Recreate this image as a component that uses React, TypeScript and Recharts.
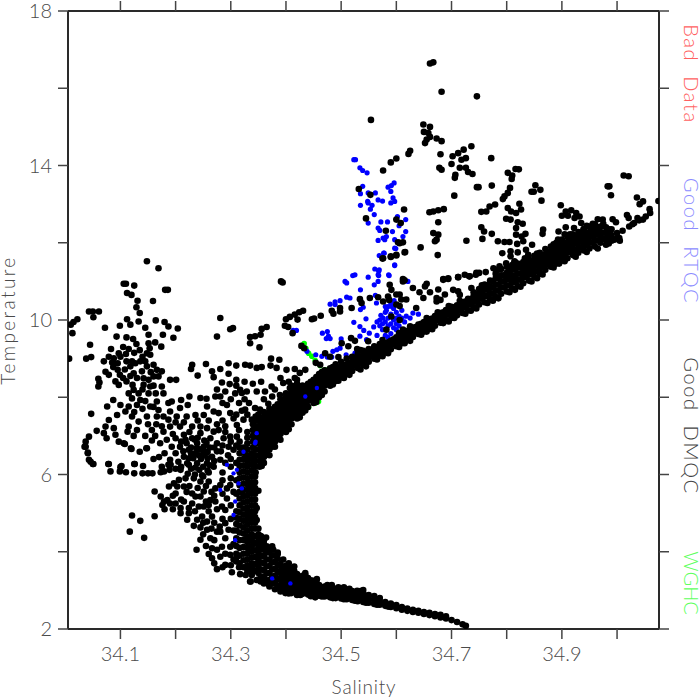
import { ScatterChart, Scatter, XAxis, YAxis } from "recharts";

const salinityTicks = [34.1, 34.2, 34.3, 34.4, 34.5, 34.6, 34.7, 34.8, 34.9, 35.0];
const salinityLabels = [34.1, 34.3, 34.5, 34.7, 34.9];
const temperatureTicks = [2, 4, 6, 8, 10, 12, 14, 16, 18];
const temperatureLabels = [2, 6, 10, 14, 18];

// each row: salinity, then the temperatures seen at that salinity
const tailColumns = [
  [34.726, 2.08], [34.72, 2.12], [34.71, 2.18], [34.7, 2.23], [34.69, 2.27, 2.33], [34.68, 2.3, 2.37], [34.67, 2.33, 2.39],
  [34.66, 2.36, 2.42], [34.65, 2.39, 2.44], [34.64, 2.42, 2.47], [34.63, 2.44, 2.5], [34.62, 2.47, 2.53], [34.61, 2.5, 2.57],
  [34.6, 2.54, 2.62], [34.59, 2.57, 2.66], [34.58, 2.6, 2.7], [34.57, 2.63, 2.72, 2.8], [34.56, 2.65, 2.75, 2.85],
  [34.55, 2.68, 2.78, 2.88], [34.54, 2.7, 2.8, 2.92], [34.53, 2.72, 2.83, 2.95], [34.52, 2.75, 2.86, 2.98], [34.51, 2.77, 2.88, 3],
  [34.5, 2.79, 2.9, 3.02], [34.49, 2.8, 2.92, 3.04], [34.48, 2.82, 2.94, 3.07], [34.47, 2.84, 2.96, 3.1], [34.46, 2.86, 3, 3.14],
  [34.45, 2.87, 3.02, 3.18, 3.25], [34.44, 2.89, 3.04, 3.2, 3.32], [34.43, 2.91, 3.07, 3.23, 3.38], [34.42, 2.92, 3.08, 3.25, 3.42],
  [34.41, 2.93, 3.1, 3.28, 3.46, 3.58], [34.4, 2.95, 3.12, 3.3, 3.48, 3.64], [34.39, 2.97, 3.14, 3.32, 3.5, 3.68],
  [34.38, 3.03, 3.2, 3.38, 3.56, 3.74, 3.9], [34.37, 3.1, 3.27, 3.45, 3.63, 3.8, 3.98, 4.1],
  [34.36, 3.18, 3.35, 3.52, 3.7, 3.88, 4.05, 4.2, 4.3], [34.35, 3.28, 3.45, 3.62, 3.8, 3.98, 4.15, 4.3, 4.45, 4.6],
];

const tailFill = [
  [34.545, 2.76, 2.86], [34.535, 2.78, 2.88], [34.525, 2.8, 2.92], [34.515, 2.83, 2.94], [34.505, 2.85, 2.96], [34.495, 2.86, 2.98], [34.485, 2.88, 3],
  [34.475, 2.9, 3.03], [34.465, 2.92, 3.06], [34.455, 2.94, 3.1], [34.445, 2.96, 3.12, 3.26], [34.435, 2.98, 3.15, 3.3], [34.425, 3, 3.17, 3.34],
  [34.415, 3.02, 3.19, 3.36, 3.5], [34.405, 3.04, 3.21, 3.39, 3.55], [34.395, 3.06, 3.23, 3.41, 3.6], [34.385, 3.1, 3.28, 3.46, 3.64, 3.82],
  [34.375, 3.18, 3.36, 3.54, 3.72, 3.9], [34.365, 3.26, 3.44, 3.62, 3.8, 3.98, 4.14], [34.355, 3.36, 3.54, 3.72, 3.9, 4.08, 4.24, 4.4],
  [34.344, 3.5, 3.68, 3.86, 4.04, 4.22, 4.4, 4.6],
];

const stemColumns = [
  [34.344, 4.75, 4.9, 5.05, 5.2, 5.35, 5.5, 5.65, 5.8, 5.95],
  [34.338, 3.4, 3.55, 3.7, 3.85, 4, 4.15, 4.3, 4.45, 4.6, 4.75, 4.9, 5.05, 5.2, 5.35, 5.5, 5.65, 5.8, 5.95, 6.1, 6.25, 6.4, 6.55],
  [34.33, 3.5, 3.65, 3.8, 3.95, 4.1, 4.25, 4.4, 4.55, 4.7, 4.85, 5, 5.15, 5.3, 5.45, 5.6, 5.75, 5.9, 6.05, 6.2, 6.35, 6.5, 6.65, 6.8, 6.95, 7.1],
  [34.323, 3.6, 3.78, 3.95, 4.12, 4.3, 4.47, 4.63, 4.8, 4.96, 5.12, 5.28, 5.44, 5.6, 5.76, 5.92, 6.08, 6.24, 6.4, 6.56, 6.7],
  [34.316, 3.7, 3.9, 4.1, 4.3, 4.5, 4.68, 4.85, 5.02, 5.2, 5.38, 5.55, 5.72, 5.9, 6.06, 6.22, 6.38, 6.55, 6.7, 6.85],
  [34.31, 3.75, 3.95, 4.15, 4.35, 4.55, 4.72, 4.88, 5.05, 5.5, 5.85, 6.3],
  [34.352, 6.2, 6.35, 6.5, 6.65, 6.8],
  [34.34, 6.7, 6.85, 7, 7.15, 7.3],
  [34.35, 6.95, 7.1, 7.25, 7.4, 7.55],
];

const bandColumns = [
  [34.36, 6.3, 6.45, 6.6, 6.75, 6.9, 7.05, 7.2, 7.35, 7.5, 7.62], [34.37, 6.5, 6.65, 6.8, 6.95, 7.1, 7.25, 7.4, 7.55, 7.7],
  [34.38, 6.72, 6.85, 7, 7.15, 7.3, 7.45, 7.6, 7.75], [34.39, 6.9, 7.05, 7.2, 7.35, 7.5, 7.65, 7.8, 7.95],
  [34.4, 7.1, 7.25, 7.4, 7.55, 7.7, 7.85, 8, 8.1], [34.41, 7.3, 7.45, 7.6, 7.75, 7.9, 8.05, 8.2, 8.3], [34.42, 7.45, 7.6, 7.75, 7.9, 8.05, 8.2, 8.35],
  [34.43, 7.6, 7.75, 7.9, 8.05, 8.2, 8.3], [34.44, 7.75, 7.9, 8.05, 8.2, 8.35], [34.45, 7.85, 8, 8.15, 8.3, 8.45],
  [34.46, 8, 8.15, 8.3, 8.45, 8.6], [34.47, 8.15, 8.3, 8.45, 8.6, 8.7], [34.48, 8.3, 8.45, 8.6, 8.75], [34.49, 8.42, 8.55, 8.7, 8.85],
  [34.5, 8.52, 8.65, 8.8, 8.92], [34.51, 8.6, 8.72, 8.85, 9], [34.52, 8.68, 8.8, 8.92, 9.05], [34.53, 8.76, 8.88, 9, 9.12],
  [34.54, 8.84, 8.96, 9.08, 9.2], [34.55, 8.92, 9.04, 9.16, 9.25], [34.56, 9, 9.12, 9.24, 9.32], [34.57, 9.08, 9.2, 9.32, 9.38],
  [34.58, 9.16, 9.28, 9.4], [34.59, 9.24, 9.36, 9.46], [34.6, 9.32, 9.44, 9.55], [34.61, 9.4, 9.52, 9.64], [34.62, 9.48, 9.6, 9.72],
  [34.63, 9.56, 9.68, 9.8], [34.64, 9.64, 9.76, 9.88], [34.65, 9.7, 9.82, 9.95], [34.66, 9.78, 9.9, 10.02], [34.67, 9.85, 9.98, 10.1],
  [34.68, 9.93, 10.06, 10.18], [34.69, 10, 10.14, 10.26], [34.7, 10.06, 10.2, 10.34], [34.71, 10.12, 10.25, 10.38],
  [34.72, 10.18, 10.33, 10.46], [34.73, 10.25, 10.4, 10.55], [34.74, 10.32, 10.47, 10.62, 10.72], [34.75, 10.4, 10.55, 10.7, 10.8],
  [34.76, 10.46, 10.62, 10.78, 10.92], [34.77, 10.54, 10.7, 10.86, 11.02], [34.78, 10.6, 10.76, 10.92, 11.08, 11.2],
  [34.79, 10.68, 10.84, 11, 11.16, 11.32], [34.8, 10.74, 10.9, 11.06, 11.22, 11.38], [34.81, 10.82, 10.98, 11.14, 11.3, 11.42],
  [34.82, 10.88, 11.04, 11.2, 11.36, 11.46], [34.83, 10.95, 11.1, 11.25, 11.4, 11.5], [34.84, 11.02, 11.17, 11.32, 11.47, 11.58],
  [34.85, 11.12, 11.26, 11.4, 11.54, 11.66], [34.86, 11.2, 11.34, 11.48, 11.62, 11.74], [34.87, 11.3, 11.43, 11.56, 11.7, 11.84],
  [34.88, 11.38, 11.5, 11.64, 11.78, 11.9], [34.89, 11.46, 11.6, 11.74, 11.88, 12], [34.9, 11.55, 11.68, 11.82, 11.96, 12.08],
  [34.91, 11.6, 11.74, 11.88, 12.02, 12.16], [34.92, 11.68, 11.82, 11.96, 12.1, 12.22], [34.93, 11.74, 11.88, 12.02, 12.16, 12.28],
  [34.94, 11.8, 11.94, 12.08, 12.22, 12.36], [34.95, 11.85, 12, 12.14, 12.28, 12.42], [34.96, 11.9, 12.05, 12.2, 12.34, 12.48],
  [34.97, 12, 12.14, 12.28, 12.42], [34.98, 11.95, 12.1, 12.25, 12.4], [34.99, 12.05, 12.2, 12.35], [35, 12.12, 12.25],
];

const bandFill = [
  [34.345, 6.05, 6.2, 6.35, 6.5, 6.65, 6.8, 6.95, 7.1, 7.25, 7.4], [34.355, 6.4, 6.55, 6.7, 6.85, 7, 7.15, 7.3, 7.45],
  [34.365, 6.52, 6.67, 6.82, 6.97, 7.12, 7.27, 7.42, 7.57], [34.375, 6.72, 6.87, 7.02, 7.17, 7.32, 7.47, 7.62],
  [34.385, 6.92, 7.07, 7.22, 7.37, 7.52, 7.67, 7.82], [34.395, 7.12, 7.27, 7.42, 7.57, 7.72, 7.87], [34.405, 7.32, 7.47, 7.62, 7.77, 7.92, 8.07],
  [34.415, 7.52, 7.67, 7.82, 7.97, 8.12, 8.25], [34.425, 7.67, 7.82, 7.97, 8.12, 8.25], [34.435, 7.82, 7.97, 8.12, 8.27], [34.445, 7.97, 8.12, 8.27, 8.4],
  [34.455, 8.07, 8.22, 8.37, 8.52], [34.465, 8.22, 8.37, 8.52, 8.65], [34.475, 8.37, 8.52, 8.67], [34.485, 8.5, 8.65, 8.78], [34.495, 8.62, 8.75],
  [34.505, 8.66, 8.8], [34.515, 8.74, 8.88], [34.525, 8.82, 8.98], [34.535, 8.9, 9.05], [34.545, 8.98, 9.12], [34.555, 9.06, 9.2], [34.565, 9.14, 9.28],
  [34.575, 9.22, 9.35], [34.585, 9.3, 9.42], [34.595, 9.38, 9.5], [34.605, 9.46, 9.58], [34.615, 9.54, 9.66], [34.625, 9.62, 9.74], [34.635, 9.7, 9.82],
  [34.645, 9.78, 9.9], [34.655, 9.84, 9.96], [34.665, 9.92, 10.04], [34.675, 10, 10.12], [34.685, 10.06, 10.2], [34.695, 10.14, 10.26], [34.705, 10.2, 10.32],
  [34.715, 10.26, 10.4], [34.725, 10.33, 10.48], [34.735, 10.4, 10.54], [34.745, 10.47, 10.62], [34.755, 10.55, 10.7], [34.765, 10.62, 10.78, 10.9],
  [34.775, 10.68, 10.84, 11], [34.785, 10.76, 10.92, 11.08], [34.795, 10.84, 11, 11.16], [34.805, 10.9, 11.06, 11.22, 11.34], [34.815, 10.98, 11.14, 11.3],
  [34.825, 11.04, 11.2, 11.36], [34.835, 11.12, 11.28, 11.42], [34.845, 11.2, 11.35, 11.5], [34.855, 11.26, 11.42, 11.58], [34.865, 11.36, 11.5, 11.66],
  [34.875, 11.44, 11.58, 11.74], [34.885, 11.52, 11.68, 11.84], [34.895, 11.62, 11.76, 11.92], [34.905, 11.68, 11.84, 12], [34.915, 11.76, 11.92, 12.08],
  [34.925, 11.82, 11.98, 12.14], [34.935, 11.88, 12.04, 12.2], [34.945, 11.94, 12.1, 12.26], [34.955, 12, 12.16, 12.32], [34.965, 12.06, 12.22, 12.36],
  [34.975, 12.1, 12.26], [34.985, 12.14, 12.28],
];

// loose dots on the edges of the band, between the rows above
const bandEdges = [
  [34.405, 7.17], [34.425, 7.48], [34.435, 7.66], [34.455, 7.88], [34.465, 8.06], [34.485, 8.33], [34.495, 8.43], [34.505, 8.5], [34.515, 8.58], [34.535, 8.72],
  [34.545, 8.8], [34.565, 8.98], [34.575, 9.06], [34.585, 9.14], [34.605, 9.3], [34.615, 9.4], [34.625, 9.46], [34.645, 9.62], [34.655, 9.7], [34.665, 9.76],
  [34.685, 9.92], [34.695, 9.96], [34.705, 10.05], [34.725, 10.16], [34.735, 10.24], [34.745, 10.3], [34.765, 10.44], [34.775, 10.5], [34.785, 10.56], [34.805, 10.72],
  [34.815, 10.78], [34.825, 10.86], [34.845, 11], [34.855, 11.08], [34.865, 11.18], [34.885, 11.36], [34.895, 11.46], [34.905, 11.52], [34.925, 11.64], [34.945, 11.76],
  [34.965, 11.85], [34.985, 11.98], [34.995, 12.08], [35.005, 12.05], [34.535, 9.22], [34.575, 9.48], [34.605, 9.66], [34.625, 9.84], [34.655, 10.05], [34.675, 10.2],
  [34.695, 10.36], [34.715, 10.5], [34.755, 10.9], [34.785, 11.3], [34.815, 11.5], [34.855, 11.72], [34.885, 11.96], [34.915, 12.22], [34.945, 12.44],
  [34.415, 3.62], [34.435, 3.45], [34.455, 3.22], [34.475, 3.14], [34.495, 3.08], [34.515, 3.04], [34.535, 2.98], [34.375, 4.14], [34.385, 3.98], [34.395, 3.8],
  [34.405, 2.92], [34.425, 2.9], [34.445, 2.85], [34.465, 2.84], [34.485, 2.8], [34.505, 2.77], [34.525, 2.73], [34.545, 2.68], [34.565, 2.63], [34.585, 2.58],
];

// [salinity, temperature] read one by one
const upperScatter = [
  [34.661, 16.64], [34.667, 16.67], [34.682, 15.91], [34.746, 15.79], [34.554, 15.18], [34.649, 15.06], [34.661, 15], [34.65, 14.87], [34.658, 14.84],
  [34.661, 14.74], [34.655, 14.67], [34.652, 14.58], [34.673, 14.7], [34.682, 14.63], [34.625, 14.38], [34.622, 14.3], [34.6, 14.18], [34.59, 14.08],
  [34.576, 13.87], [34.68, 14.29], [34.712, 14.32], [34.722, 14.41], [34.736, 14.5], [34.702, 14.24], [34.726, 14.19], [34.718, 14.15], [34.772, 14.19],
  [34.7, 14.04], [34.715, 13.94], [34.726, 13.94], [34.73, 13.83], [34.738, 13.78], [34.678, 13.94], [34.682, 13.89], [34.707, 13.76], [34.706, 13.68],
  [34.816, 13.91], [34.822, 13.9], [34.802, 13.81], [34.81, 13.74], [34.809, 13.65], [34.746, 13.44], [34.749, 13.44], [34.773, 13.48], [34.806, 13.42], [34.802, 13.29],
  [34.796, 13.2], [34.793, 13.13], [34.852, 13.49], [34.845, 13.32], [34.849, 13.32], [34.861, 13.37], [34.863, 13.09], [34.898, 12.97], [34.705, 13.22], [34.823, 13.01],
  [34.779, 12.99], [34.769, 12.94], [34.763, 12.81], [34.754, 12.8], [34.802, 12.9], [34.808, 12.81], [34.817, 12.77], [34.826, 12.86], [34.799, 12.62],
  [34.807, 12.6], [34.82, 12.53], [34.829, 12.49], [34.817, 12.38], [34.754, 12.4], [34.759, 12.29], [34.773, 12.23], [34.756, 12.1], [34.727, 12.05],
  [34.784, 12.04], [34.796, 12.02], [34.805, 12.02], [34.817, 12.21], [34.827, 12.16], [34.834, 12.23], [34.83, 12.04], [34.819, 11.97], [34.846, 11.95],
  [34.866, 12.34], [34.865, 12.23], [34.792, 11.73], [34.807, 11.78], [34.807, 11.65], [34.82, 11.75], [34.835, 11.82], [34.839, 11.69],
  [34.614, 12.86], [34.66, 12.79], [34.667, 12.81], [34.676, 12.84], [34.686, 12.87], [34.545, 12.63], [34.6, 12.6], [34.608, 12.51], [34.676, 12.53],
  [34.581, 12.31], [34.667, 12.25], [34.676, 12.21], [34.673, 12.08], [34.67, 12.04], [34.603, 12.01], [34.612, 12.01], [34.644, 11.88], [34.675, 11.68],
  [34.616, 11.76], [34.6, 11.67], [34.59, 11.63], [34.575, 11.59], [34.532, 13.39], [34.553, 13.24],
  [34.685, 11.06], [34.694, 11.08], [34.712, 11.11], [34.724, 11.17], [34.732, 11.13], [34.744, 11.17], [34.75, 11.22], [34.762, 11.24], [34.776, 11.34],
  [34.787, 11.39], [34.799, 11.47], [34.814, 11.52], [34.833, 11.6], [34.612, 11.06],
];

const rightScatter = [
  [34.894, 12.29], [34.893, 12.08], [34.907, 12.4], [34.905, 12.22], [34.912, 12.2], [34.922, 12.38], [34.913, 12.08], [34.907, 12.81], [34.917, 12.84],
  [34.926, 12.77], [34.9, 12.7], [34.911, 12.7], [34.923, 12.64], [34.932, 12.68], [34.935, 12.51], [34.939, 12.34], [34.965, 12.61], [34.974, 12.6],
  [34.956, 12.49], [34.975, 12.49], [34.992, 12.61], [34.998, 12.53], [34.986, 12.35], [34.983, 13.46], [34.986, 13.46], [34.989, 13.23], [35.012, 13.74], [35.021, 13.72],
  [35.036, 13.17], [35.047, 13.07], [35.041, 13], [35.075, 13.08], [35.018, 12.72], [35.021, 12.64], [35.059, 12.87], [35.06, 12.77], [35.037, 12.64],
  [35.031, 12.51], [35.047, 12.6], [35.022, 12.42], [35.052, 12.68], [35.01, 12.31], [35.004, 12.12], [35.028, 12.48], [35.04, 12.58],
];

const midScatter = [
  [34.391, 11], [34.394, 10.97], [34.431, 10.24], [34.424, 10.2], [34.416, 10.14], [34.407, 10.08], [34.4, 10.02], [34.398, 9.85], [34.404, 9.82], [34.421, 10.01],
  [34.447, 10.02], [34.451, 10.04], [34.463, 10.11], [34.483, 10.24], [34.486, 10.16], [34.498, 10.31], [34.498, 10.22], [34.519, 10.31], [34.365, 9.82],
  [34.356, 9.77], [34.354, 9.62], [34.344, 9.58], [34.335, 9.56], [34.335, 9.4], [34.352, 9.29], [34.412, 9.66], [34.428, 9.33], [34.433, 9.27], [34.373, 9],
  [34.388, 8.97], [34.326, 8.84], [34.335, 8.82], [34.347, 8.76], [34.356, 8.78], [34.372, 8.82], [34.383, 8.76], [34.401, 8.71], [34.416, 8.73], [34.435, 8.71],
  [34.462, 8.84], [34.454, 8.89], [34.471, 9.14], [34.48, 9.05], [34.495, 9.04], [34.501, 9.4], [34.513, 9.32], [34.518, 9.53], [34.525, 9.46], [34.529, 9.25],
  [34.549, 9.45], [34.534, 10.54], [34.537, 10.44], [34.552, 10.57], [34.567, 10.59], [34.576, 10.48], [34.585, 10.61], [34.587, 10.52], [34.606, 10.66],
  [34.612, 11], [34.615, 11.03], [34.588, 10.91], [34.591, 10.78], [34.6, 10.66], [34.609, 10.53], [34.618, 10.53], [34.63, 10.83], [34.642, 10.72], [34.652, 10.87],
  [34.655, 10.94], [34.649, 10.57], [34.661, 10.72], [34.676, 10.79], [34.673, 10.57], [34.685, 11.04], [34.694, 11.06], [34.688, 10.66], [34.712, 11.11],
  [34.703, 10.78], [34.712, 10.74], [34.715, 10.65], [34.733, 11.13], [34.745, 11.22], [34.736, 10.83], [34.745, 10.65], [34.6, 10.4], [34.606, 10.36],
  [34.636, 10.31], [34.673, 10.48], [34.68, 10.52], [34.582, 9.75], [34.591, 10.09], [34.606, 10], [34.612, 9.75], [34.576, 11.6], [34.59, 11.65], [34.6, 11.69],
  [34.615, 11.75], [34.606, 11.99], [34.347, 8.15], [34.362, 8.15], [34.374, 8.28], [34.38, 8.2], [34.329, 8.15], [34.32, 8.11], [34.333, 7.85], [34.344, 7.72],
  [34.353, 7.68], [34.326, 7.68], [34.395, 8.37], [34.416, 8.5], [34.425, 8.63], [34.389, 8.06], [34.368, 7.83], [34.338, 7.42],
  [34.323, 7.42], [34.407, 8.24], [34.39, 8.5], [34.405, 8.4], [34.42, 8.45], [34.375, 8.02], [34.36, 7.95], [34.345, 7.5],
  [34.325, 8.4], [34.34, 8.35], [34.355, 8.4], [34.31, 8.45], [34.3, 7.95], [34.315, 7.85], [34.325, 7.95], [34.31, 7.55], [34.32, 7.65], [34.33, 7.55],
  [34.285, 7.85], [34.275, 8.2], [34.29, 8.15], [34.31, 8.3],
];

const leftScatter = [
  [34.148, 11.52], [34.169, 11.34], [34.106, 10.94], [34.11, 10.94], [34.125, 10.89], [34.112, 10.7], [34.12, 10.65], [34.181, 10.78], [34.186, 10.78], [34.131, 10.5], [34.159, 10.49],
  [34.129, 10.33], [34.135, 10.18], [34.043, 10.22], [34.05, 10.22], [34.061, 10.22], [34.051, 10.07], [34.022, 10.02], [34.015, 9.95], [34.01, 9.88], [34.013, 9.66], [34.072, 9.8],
  [34.112, 10.02], [34.099, 9.85], [34.118, 9.88], [34.133, 9.96], [34.145, 9.8], [34.164, 9.99], [34.18, 9.95], [34.187, 9.83], [34.204, 9.78], [34.177, 9.62],
  [34.196, 9.54], [34.093, 9.57], [34.111, 9.55], [34.123, 9.51], [34.151, 9.62], [34.129, 9.38], [34.163, 9.42], [34.174, 9.31], [34.045, 9.36], [34.038, 9],
  [34.047, 9.04], [34.007, 9], [34.07, 8.93], [34.079, 9.05], [34.083, 9.25], [34.088, 9.01], [34.097, 9.14], [34.111, 8.93], [34.121, 8.93], [34.127, 8.88],
  [34.136, 8.93], [34.148, 9.14], [34.154, 9.1], [34.151, 9.4], [34.153, 9.27], [34.145, 8.93], [34.16, 8.84], [34.166, 8.71], [34.175, 8.67], [34.169, 8.54],
  [34.19, 8.45], [34.201, 8.45], [34.073, 8.66], [34.079, 8.58], [34.06, 8.48], [34.062, 8.38], [34.06, 8.28], [34.087, 8.78], [34.095, 8.71], [34.099, 8.58],
  [34.091, 8.41], [34.097, 8.32], [34.111, 8.41], [34.124, 8.62], [34.13, 8.5], [34.139, 8.67], [34.142, 8.49], [34.151, 8.45], [34.16, 8.54], [34.142, 8.32],
  [34.154, 8.28], [34.175, 8.28], [34.115, 8.1], [34.124, 8.19], [34.133, 8.1], [34.121, 7.97], [34.136, 7.93], [34.151, 8.1], [34.164, 8.1], [34.178, 8.1],
  [34.166, 7.89], [34.115, 7.76], [34.13, 7.8], [34.154, 7.76], [34.169, 7.67], [34.1, 7.8], [34.087, 7.93], [34.076, 7.76], [34.047, 7.57], [34.094, 7.54],
  [34.109, 7.63], [34.121, 7.5], [34.133, 7.37], [34.148, 7.5], [34.166, 7.5], [34.178, 7.5], [34.187, 7.85], [34.193, 7.89], [34.079, 7.41], [34.073, 7.24],
  [34.07, 7.07], [34.075, 6.94], [34.057, 7.13], [34.088, 7.2], [34.091, 7.03], [34.097, 6.85], [34.115, 7.24], [34.113, 7.11], [34.124, 7], [34.106, 6.81],
  [34.119, 6.68], [34.135, 6.59], [34.148, 6.68], [34.145, 7], [34.157, 7.15], [34.163, 7], [34.157, 6.88], [34.178, 7.11], [34.184, 6.9], [34.172, 6.81],
  [34.043, 6.98], [34.037, 6.85], [34.035, 6.72], [34.041, 6.57], [34.043, 6.38], [34.051, 6.27], [34.078, 6.27], [34.1, 6.19], [34.125, 6.27], [34.141, 6.22],
  [34.105, 9.3], [34.115, 9.25], [34.125, 9.15], [34.135, 9.22], [34.1, 9.05], [34.11, 9.12], [34.14, 9.05], [34.085, 8.9], [34.095, 8.88], [34.108, 8.72],
  [34.118, 8.8], [34.148, 8.8], [34.155, 8.65], [34.118, 8.55], [34.105, 8.5], [34.122, 8.32], [34.14, 8.2], [34.16, 8.3], [34.145, 7.9], [34.16, 7.75],
  [34.125, 7.62], [34.14, 7.7], [34.15, 7.3], [34.13, 7.15], [34.165, 7.3], [34.175, 7.25],
];

const cloudScatter = [
  [34.19, 7.63], [34.21, 7.93], [34.225, 8.02], [34.222, 7.8], [34.208, 7.72], [34.245, 7.98], [34.256, 7.96], [34.272, 8.02], [34.281, 8.02], [34.257, 7.76],
  [34.269, 7.63], [34.278, 7.59], [34.293, 7.8], [34.299, 7.59], [34.187, 7.42], [34.202, 7.5], [34.22, 7.5], [34.236, 7.54], [34.251, 7.54], [34.208, 7.24],
  [34.19, 7.24], [34.23, 7.24], [34.245, 7.24], [34.257, 7.2], [34.269, 7.11], [34.278, 7.15], [34.287, 6.94], [34.299, 6.98], [34.311, 7.28], [34.311, 6.98],
  [34.296, 6.72], [34.305, 6.64], [34.275, 6.81], [34.263, 6.94], [34.245, 7.07], [34.23, 6.94], [34.215, 7.03], [34.2, 6.94], [34.193, 6.72], [34.208, 6.72],
  [34.22, 6.81], [34.239, 6.81], [34.251, 6.72], [34.224, 6.64], [34.236, 6.55], [34.251, 6.5], [34.266, 6.46], [34.215, 6.46], [34.281, 6.38], [34.205, 6.33],
  [34.19, 6.38], [34.221, 6.29], [34.239, 6.29], [34.257, 6.29], [34.187, 6.25], [34.275, 6.6], [34.269, 6.2], [34.255, 8.86], [34.23, 8.84], [34.228, 8.73],
  [34.24, 8.56], [34.266, 8.67], [34.269, 8.52], [34.281, 8.73], [34.296, 8.88], [34.296, 8.61], [34.284, 8.38], [34.298, 8.34], [34.31, 8.82], [34.317, 8.19],
  [34.308, 8.1], [34.275, 9.57], [34.299, 9.76], [34.304, 9.79], [34.281, 10.05],
  [34.228, 6.7], [34.244, 6.65], [34.258, 6.58], [34.232, 6.42], [34.246, 6.4], [34.262, 6.7], [34.27, 6.35], [34.228, 6.15], [34.243, 6.12], [34.258, 6.1],
  [34.235, 6.9], [34.252, 6.88], [34.218, 6.9], [34.26, 6.05], [34.248, 5.98], [34.235, 6], [34.222, 6.02], [34.29, 6.3], [34.3, 6.2], [34.285, 6.05],
  [34.3, 6.4], [34.29, 7.25], [34.305, 7.45], [34.285, 7.4], [34.3, 5.9], [34.282, 6.6],
  [34.228, 6.55], [34.238, 6.68], [34.25, 6.62], [34.242, 6.5], [34.258, 6.42], [34.224, 6.42], [34.236, 6.18], [34.25, 6.2], [34.214, 6.6], [34.262, 6.24], [34.256, 6.82], [34.24, 6.95],
  [34.2, 6.55], [34.21, 6.85], [34.225, 7.1], [34.24, 7.4], [34.26, 7.4], [34.275, 7.3], [34.29, 7.1], [34.3, 6.85], [34.315, 7.15], [34.27, 6.7], [34.285, 6.75], [34.295, 6.5],
  [34.31, 6.75], [34.195, 7.05], [34.2, 7.35], [34.215, 7.35], [34.18, 6.55], [34.17, 6.45], [34.16, 6.4], [34.175, 6.2], [34.2, 6.15], [34.21, 6.2],
  [34.037, 6.72], [34.041, 6.55], [34.046, 6.33], [34.05, 6.27], [34.079, 6.27], [34.082, 6.08], [34.099, 6.08], [34.102, 6.22], [34.11, 6.06], [34.125, 6.03],
  [34.126, 6.27], [34.14, 6.03], [34.15, 6.03], [34.158, 6.03], [34.173, 6.06], [34.179, 6.08], [34.189, 6.12], [34.12, 6.66], [34.147, 6.68], [34.108, 6.79],
  [34.162, 5.56], [34.173, 5.43], [34.179, 5.3], [34.185, 5.34], [34.176, 5.21], [34.18, 5.1], [34.195, 5.1], [34.162, 4.92], [34.121, 4.94], [34.136, 4.8],
  [34.117, 4.52], [34.143, 4.36], [34.197, 5.77], [34.188, 5.69], [34.206, 5.86], [34.218, 5.9], [34.203, 5.69], [34.215, 5.69], [34.2, 5.51], [34.191, 6.25],
  [34.209, 6.12], [34.224, 6.25], [34.233, 5.9], [34.245, 5.82], [34.26, 5.82], [34.272, 5.64], [34.281, 5.73], [34.293, 5.64], [34.299, 5.73], [34.23, 5.51],
  [34.236, 5.43], [34.251, 5.56], [34.245, 5.43], [34.263, 5.34], [34.272, 5.3], [34.26, 5.21], [34.293, 5.38], [34.209, 5.13], [34.224, 5.13], [34.242, 5.17],
  [34.251, 5.17], [34.284, 5.17], [34.29, 5.08], [34.209, 5], [34.224, 5], [34.248, 4.91], [34.266, 4.91], [34.221, 4.83], [34.239, 4.83], [34.257, 4.78],
  [34.29, 4.74], [34.296, 4.57], [34.233, 4.67], [34.245, 4.63], [34.257, 4.57], [34.275, 4.52], [34.245, 4.31], [34.238, 4.05], [34.263, 4.35], [34.281, 4.52],
  [34.299, 4.13], [34.284, 4.13], [34.266, 4.09], [34.26, 3.94], [34.266, 3.83], [34.281, 3.87], [34.299, 3.92], [34.275, 3.55], [34.29, 3.66], [34.302, 3.47],
  [34.311, 3.87], [34.317, 3.42], [34.327, 3.4], [34.336, 3.23], [34.339, 3.57], [34.354, 3.23], [34.372, 3.17], [34.399, 2.93], [34.42, 2.88],
  [34.215, 5.3], [34.23, 5.25], [34.255, 5.3], [34.27, 5.45], [34.285, 5.5], [34.305, 5.55], [34.275, 5.1], [34.26, 5.05], [34.3, 5.2], [34.235, 5.05], [34.25, 4.75],
  [34.27, 4.75], [34.285, 4.85], [34.3, 4.85], [34.265, 4.6], [34.28, 4.65], [34.305, 4.55], [34.25, 4.45], [34.27, 4.3], [34.29, 4.35], [34.305, 4.2], [34.255, 4.15],
  [34.275, 4.05], [34.29, 3.95], [34.305, 3.8], [34.27, 3.7], [34.285, 3.6], [34.3, 3.65], [34.315, 3.6], [34.255, 5.7], [34.24, 5.65], [34.225, 5.7], [34.265, 5.55],
  [34.285, 5.85], [34.21, 5.35], [34.195, 5.45], [34.19, 5.25], [34.2, 5.25], [34.22, 5.55], [34.25, 5.95],
  [34.364, 4.37], [34.353, 4.41], [34.377, 4.05], [34.385, 3.94], [34.54, 3.01], [34.529, 2.99], [34.456, 3.29], [34.505, 3.08], [34.483, 3.14], [34.435, 3.4],
  [34.405, 3.7], [34.347, 4.82], [34.347, 5.13], [34.35, 5.58], [34.356, 6.22], [34.335, 3.23], [34.347, 3.27], [34.368, 3.17], [34.399, 2.97], [34.426, 2.88], [34.453, 2.82],
];

const blueDots = [
  [34.523, 14.15], [34.526, 14.15], [34.534, 13.94], [34.539, 13.87], [34.547, 13.81], [34.539, 13.46], [34.585, 13.44], [34.591, 13.48], [34.596, 13.55], [34.59, 13.33],
  [34.535, 13.27], [34.549, 13.29], [34.562, 13.29], [34.594, 13.16], [34.567, 13.11], [34.575, 13.08], [34.548, 13.07], [34.59, 13.03], [34.597, 13.07], [34.549, 13.03],
  [34.535, 12.97], [34.556, 12.97], [34.553, 12.87], [34.56, 12.73], [34.602, 12.68], [34.617, 12.6], [34.572, 12.54], [34.584, 12.54], [34.549, 12.51], [34.567, 12.38],
  [34.605, 12.44], [34.57, 12.32], [34.593, 12.29], [34.617, 12.29], [34.612, 12.16], [34.576, 12.12], [34.582, 12.16], [34.567, 12.06], [34.579, 12.08], [34.597, 12.08],
  [34.599, 11.85], [34.578, 11.73], [34.569, 11.67], [34.597, 11.41], [34.561, 11.32], [34.569, 11.3], [34.567, 11.17], [34.525, 11.17], [34.521, 11.15], [34.549, 11.11],
  [34.587, 11.15], [34.577, 11.73], [34.597, 11.86], [34.597, 11.43], [34.568, 11.26], [34.568, 11.15], [34.586, 11.17], [34.567, 11], [34.56, 10.91], [34.621, 11],
  [34.507, 11], [34.51, 10.96], [34.535, 10.78], [34.562, 10.64], [34.51, 10.59], [34.516, 10.57], [34.498, 10.5], [34.489, 10.47], [34.48, 10.41], [34.489, 10.4],
  [34.54, 10.33], [34.535, 10.27], [34.564, 10.44], [34.545, 10.03], [34.523, 9.94], [34.534, 9.83], [34.541, 9.73], [34.551, 9.66], [34.559, 9.82], [34.534, 9.58],
  [34.546, 9.49], [34.419, 9.73], [34.413, 9.73], [34.475, 9.7], [34.466, 9.66], [34.477, 9.58], [34.473, 9.52], [34.48, 9.52], [34.5, 9.51], [34.498, 9.27], [34.492, 9.23],
  [34.485, 9.19], [34.475, 9.04], [34.483, 9.04], [34.465, 9.06], [34.454, 9.1], [34.438, 9.19], [34.509, 9.1], [34.525, 9.14], [34.531, 9.23], [34.54, 9.17],
  [34.576, 10.05], [34.58, 10.2], [34.585, 10.35], [34.59, 10.44], [34.595, 10.3], [34.6, 10.2], [34.605, 10.1], [34.59, 10.15], [34.58, 9.95], [34.585, 9.85],
  [34.59, 9.9], [34.6, 9.9], [34.595, 10], [34.57, 9.85], [34.575, 9.75], [34.58, 9.6], [34.59, 9.65], [34.6, 9.75], [34.565, 9.95], [34.572, 10.12],
  [34.61, 10.25], [34.618, 10.1], [34.625, 10.05], [34.64, 10.15], [34.565, 9.6], [34.575, 9.5], [34.585, 9.55], [34.58, 10.35], [34.596, 10.5], [34.615, 9.95],
  [34.575, 9.9], [34.585, 10.05], [34.595, 9.8], [34.605, 9.85], [34.57, 10], [34.582, 10.25], [34.592, 10.35], [34.6, 10.05], [34.61, 10.05], [34.63, 10.18],
];

// blue dots that stay visible on top of the black ones
const blueOnTop = [
  [34.323, 6.59], [34.311, 6.12], [34.305, 6.03], [34.293, 6.25], [34.314, 5.77], [34.281, 5.6], [34.32, 5.64], [34.308, 5.3], [34.305, 4.95], [34.308, 4.3],
  [34.345, 6.85], [34.347, 7.07], [34.344, 6.81], [34.456, 8.24], [34.435, 8.02], [34.375, 3.31], [34.408, 3.18],
];

const greenDots = [
  [34.433, 9.39], [34.436, 9.27], [34.441, 9.14], [34.447, 9.06], [34.453, 8.95], [34.462, 8.82], [34.471, 8.71], [34.483, 8.6], [34.459, 7.89], [34.453, 7.85], [34.441, 7.74],
];

const toPoints = (pairs: number[][]) => pairs.map(([s, t]) => ({ s, t }));
const fromColumns = (cols: number[][]) => cols.flatMap(([s, ...ts]) => ts.map((t) => ({ s, t })));

const blackPoints = [
  ...fromColumns(tailColumns),
  ...fromColumns(tailFill),
  ...fromColumns(stemColumns),
  ...fromColumns(bandColumns),
  ...fromColumns(bandFill),
  ...toPoints(bandEdges),
  ...toPoints(upperScatter),
  ...toPoints(rightScatter),
  ...toPoints(midScatter),
  ...toPoints(leftScatter),
  ...toPoints(cloudScatter),
];

const fontFamily = "Lato";
const tickStyle = { fill: "#4a4a4a", fontSize: 20, fontFamily, fontWeight: 300 };
const frame = { stroke: "#2a2a2a", strokeWidth: 2 };
const tickLine = { stroke: "#444", strokeWidth: 1.5 };

const dot = (r: number, fill: string) => (p: any) => <circle cx={p.cx} cy={p.cy} r={r} fill={fill} />;

const sideLabels = [
  { text: "Bad  Data", y: 74, color: "#ff6060", spacing: 1.6 },
  { text: "Good  RTQC", y: 241, color: "#8c8cff", spacing: 1.6 },
  { text: "Good  DMQC", y: 426, color: "#444", spacing: 1.6 },
  { text: "WGHC", y: 583, color: "#60ff60", spacing: 0 },
];

export default function App() {
  return (
    <div style={{ position: "absolute", left: 0, top: 0, width: 700, height: 700 }}>
      <ScatterChart width={700} height={700} margin={{ top: 10, right: 40, bottom: 0, left: 0 }}>
        <XAxis
          xAxisId="main"
          dataKey="s"
          type="number"
          domain={[34.005, 35.076]}
          allowDataOverflow
          ticks={salinityTicks}
          interval={0}
          height={71}
          tickSize={10}
          tickMargin={8}
          tick={tickStyle}
          axisLine={frame}
          tickLine={tickLine}
          tickFormatter={(v: number) => (salinityLabels.includes(v) ? v.toFixed(1) : "")}
        />
        <XAxis
          xAxisId="top"
          orientation="top"
          dataKey="s"
          type="number"
          domain={[34.005, 35.076]}
          allowDataOverflow
          ticks={salinityTicks}
          interval={0}
          height={1}
          tickSize={10}
          tick={tickStyle}
          tickFormatter={() => ""}
          axisLine={frame}
          tickLine={tickLine}
        />
        <YAxis
          yAxisId="main"
          dataKey="t"
          type="number"
          domain={[2, 18]}
          allowDataOverflow
          ticks={temperatureTicks}
          interval={0}
          width={68}
          tickSize={10}
          tickMargin={6}
          tick={tickStyle}
          axisLine={frame}
          tickLine={tickLine}
          tickFormatter={(v: number) => (temperatureLabels.includes(v) ? String(v) : "")}
        />
        <YAxis
          yAxisId="right"
          orientation="right"
          dataKey="t"
          type="number"
          domain={[2, 18]}
          allowDataOverflow
          ticks={temperatureTicks}
          interval={0}
          width={1}
          tickSize={10}
          tick={tickStyle}
          tickFormatter={() => ""}
          axisLine={frame}
          tickLine={tickLine}
        />
        <Scatter xAxisId="main" yAxisId="main" data={toPoints(greenDots)} shape={dot(2.8, "#00ff00")} isAnimationActive={false} />
        <Scatter xAxisId="main" yAxisId="main" data={toPoints(blueDots)} shape={dot(2.6, "#0000ff")} isAnimationActive={false} />
        <Scatter xAxisId="main" yAxisId="main" data={blackPoints} shape={dot(3.3, "#000")} isAnimationActive={false} />
        <Scatter xAxisId="main" yAxisId="main" data={toPoints(blueOnTop)} shape={dot(2.2, "#0000ff")} isAnimationActive={false} />
        <text x={364} y={694} textAnchor="middle" fill="#4a4a4a" fontSize={19} fontFamily={fontFamily} fontWeight={300} letterSpacing={0.8}>
          Salinity
        </text>
        <text x={15} y={320} textAnchor="middle" fill="#4a4a4a" fontSize={19} fontFamily={fontFamily} fontWeight={300} letterSpacing={2.4} transform="rotate(-90 15 320)">
          Temperature
        </text>
        {sideLabels.map((l) => (
          <text key={l.text} x={684} y={l.y} textAnchor="middle" fill={l.color} fontSize={20} fontFamily={fontFamily} fontWeight={300} letterSpacing={l.spacing} style={{ whiteSpace: "pre" }} transform={`rotate(90 684 ${l.y})`}>
            {l.text}
          </text>
        ))}
      </ScatterChart>
    </div>
  );
}
